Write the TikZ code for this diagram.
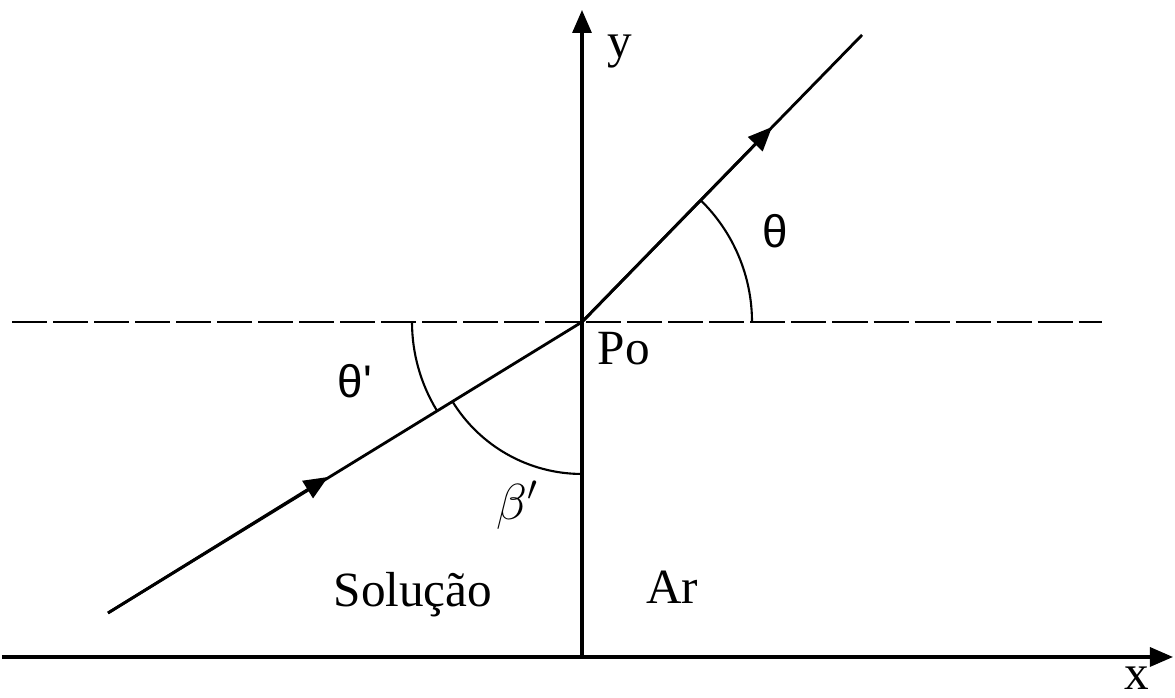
\documentclass[tikz,border=0pt]{standalone}
\usepackage{fontspec}
\setmainfont{Liberation Serif}
\newfontfamily\angfont{Liberation Sans}
\usetikzlibrary{arrows.meta}

\begin{document}
\begin{tikzpicture}[x=0.01cm,y=0.01cm,
    eixo/.style={line width=0.9pt,-{Triangle[length=2.3mm,width=1.9mm]}},
    raio/.style={line width=0.8pt},
    seta/.style={line width=0.8pt,-{Triangle[length=2.4mm,width=2mm]}},
    arco/.style={line width=0.6pt},
    rot/.style={inner sep=0pt,font=\fontsize{14}{16}\selectfont},
    ang/.style={inner sep=0pt,font=\angfont\fontsize{13}{15}\selectfont}]
  \useasboundingbox (0,0) rectangle (1175,698);
  % pontos
  \coordinate (Po) at (582,376);
  \coordinate (O) at (582,41);
  \coordinate (xa) at (2,41);
  \coordinate (xb) at (1173,41);
  \coordinate (yb) at (582,688);
  \coordinate (dl) at (12,376);
  \coordinate (dr) at (1102,376);
  \coordinate (sup) at (862,663);
  \coordinate (supm) at (772,571);
  \coordinate (inf) at (108,85);
  \coordinate (infm) at (328,221);
  % eixos
  \draw[eixo] (xa) -- (xb);
  \draw[eixo] (O) -- (yb);
  \draw[line width=0.8pt,dash pattern=on 0.35cm off 0.06cm] (dl) -- (dr);
  % raio
  \draw[raio] (inf) -- (Po) -- (sup);
  \draw[seta] (inf) -- (infm);
  \draw[seta] (Po) -- (supm);
  % angulos
  \draw[arco] ([shift={(0:170)}]Po) arc[start angle=0,end angle=45.7,radius=170];
  \draw[arco] ([shift={(180:170)}]Po) arc[start angle=180,end angle=211.5,radius=170];
  \draw[arco] ([shift={(211.5:152)}]Po) arc[start angle=211.5,end angle=270,radius=152];
  % rotulos
  \node[rot,anchor=base] (ylab) at (620,640) {y};
  \node[rot,anchor=base] (xlab) at (1137,8) {x};
  \node[rot,anchor=base west] (polab) at (597,333) {Po};
  \node[rot,anchor=base] (sol) at (413,91) {Solução};
  \node[rot,anchor=base] (ar) at (672,94) {Ar};
  \node[ang] (th) at (775,467) {θ};
  \node[ang] (thl) at (355,317) {θ'};
  \node[rot] (bet) at (518,193) {$\beta'$};
\end{tikzpicture}
\end{document}
